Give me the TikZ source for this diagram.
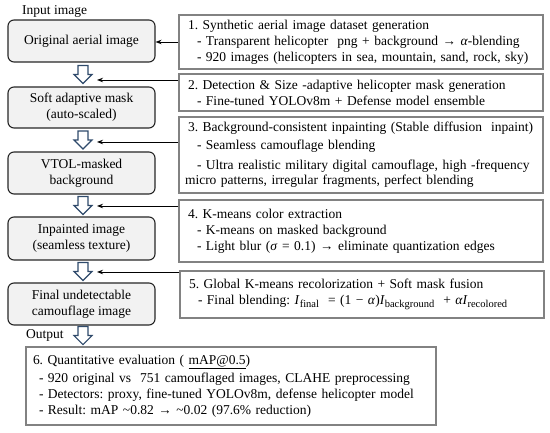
\documentclass[tikz,border=0pt]{standalone}
\usepackage{fontspec}
\setmainfont{Liberation Serif}
\usetikzlibrary{arrows.meta,calc}
\definecolor{hollowc}{RGB}{47,74,107}
\definecolor{lfill}{RGB}{242,242,242}
\definecolor{rborder}{RGB}{130,130,130}
\frenchspacing
\newcommand{\lowsub}[1]{\raisebox{-3pt}{\fontsize{10.5}{12}\selectfont #1}}
\begin{document}
\begin{tikzpicture}[x=1pt,y=1pt,
  every node/.style={font=\fontsize{13.5}{15.8}\selectfont},
  lbox/.style={draw=black!85, line width=1.1pt, fill=lfill, rounded corners=6pt,
    minimum width=147pt, align=center, inner sep=2pt},
  rbox/.style={draw=rborder, line width=1.3pt, minimum width=364pt, text width=352pt,
    align=left, inner xsep=6pt, inner ysep=0pt},
  lbl/.style={inner sep=0pt, anchor=west},
  harrow/.style={draw=hollowc, line width=1.1pt, fill=white, line join=miter},
  conn/.style={draw=black, line width=0.9pt, -{Stealth[length=6pt,width=4.5pt]}}
]
\useasboundingbox (0,0) rectangle (550,433);

% left flow boxes
\node[lbox, minimum height=42pt] (b1) at (81.5,392) {Original aerial image};
\node[lbox, minimum height=41pt] (b2) at (81.5,325.5) {Soft adaptive mask\\(auto-scaled)};
\node[lbox, minimum height=42pt] (b3) at (81.5,260) {VTOL-masked\\background};
\node[lbox, minimum height=43pt] (b4) at (81.5,194.5) {Inpainted image\\(seamless texture)};
\node[lbox, minimum height=42pt] (b5) at (81.5,129) {Final undetectable\\camouflage image};

\node[lbl] (inl) at (22,422) {Input image};
\node[lbl] (outl) at (26,98) {Output};

% right description boxes
\node[rbox, minimum height=54pt] (r1) at (361,391) {\hspace*{3pt}1. Synthetic aerial image dataset generation\\
\hspace*{12pt}- Transparent helicopter\ \ png + background → \textit{α}-blending\\
\hspace*{12pt}- 920 images (helicopters in sea, mountain, sand, rock, sky)};
\node[rbox, minimum height=37pt] (r2) at (361,340.5) {\hspace*{3pt}2. Detection \& Size -adaptive helicopter mask generation\\
\hspace*{12pt}- Fine-tuned YOLOv8m + Defense model ensemble};
\node[rbox, minimum height=76pt] (r3) at (361,278) {\hspace*{3pt}3. Background-consistent inpainting (Stable diffusion\ \ inpaint)\\[2pt]
\hspace*{12pt}- Seamless camouflage blending\\[4pt]
\hspace*{12pt}- Ultra realistic military digital camouflage, high -frequency\\
micro patterns, irregular fragments, perfect blending};
\node[rbox, minimum height=62pt] (r4) at (361,202) {\hspace*{3pt}4. K-means color extraction\\
\hspace*{12pt}- K-means on masked background\\
\hspace*{12pt}- Light blur (\textit{σ} = 0.1) → eliminate quantization edges};
\node[rbox, minimum height=47pt] (r5) at (362,138.5) {\hspace*{3pt}5. Global K-means recolorization + Soft mask fusion\\
\hspace*{12pt}- Final blending: \textit{I}\lowsub{final}\ \ = (1 − \textit{α})\textit{I}\lowsub{background}\ \ + \textit{αI}\lowsub{recolored}};
\node[rbox, minimum width=410pt, text width=396pt, inner xsep=7pt, minimum height=78pt] (r6) at (231,47) {6. Quantitative evaluation ( \underline{mAP@0.5})\\[3pt]
\hspace*{6pt}- 920 original vs\ \ 751 camouflaged images, CLAHE preprocessing\\
\hspace*{6pt}- Detectors: proxy, fine-tuned YOLOv8m, defense helicopter model\\
\hspace*{6pt}- Result: mAP \textasciitilde 0.82 → \textasciitilde 0.02 (97.6\% reduction)};

% hollow down arrows
\foreach \ya/\yb/\nm in {b1/b2/h1, b2/b3/h2, b3/b4/h3, b4/b5/h4}{
  \coordinate (\nm) at ($(\ya.south)!0.5!(\yb.north)+(1.5,0)$);
}
\coordinate (h5) at ($(b5.south)+(1.5,-10)$);
\foreach \nm in {h1,h2,h3,h4,h5}{
  \draw[harrow, shift={(\nm)}] (-5,9) -- (5,9) -- (5,0) -- (9,0) -- (0,-9) -- (-9,0) -- (-5,0) -- cycle;
}

% connectors from description boxes
\coordinate (t2) at (97,353);
\coordinate (t3) at (97,291);
\coordinate (t4) at (97,227);
\coordinate (t5) at (97,161);
\draw[conn] (r1.west) -- (r1.west -| b1.east);
\draw[conn] (r2.west |- t2) -- (t2);
\draw[conn] (r3.west |- t3) -- (t3);
\draw[conn] (r4.west |- t4) -- (t4);
\draw[conn] (r5.west |- t5) -- (t5);
\end{tikzpicture}
\end{document}
